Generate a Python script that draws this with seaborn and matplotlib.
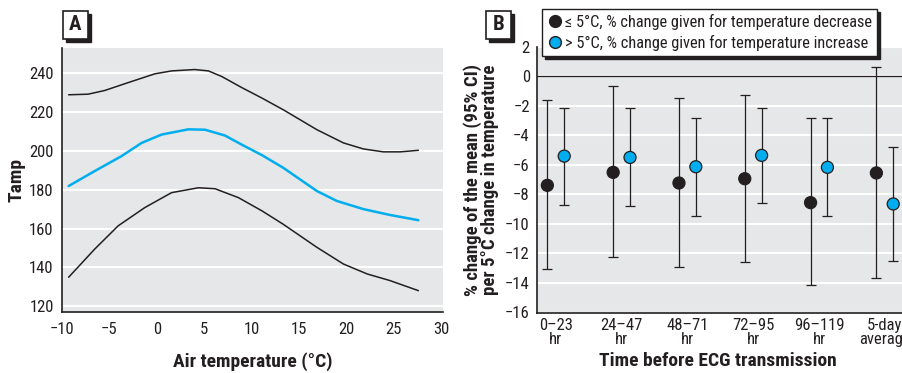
import matplotlib
matplotlib.use("Agg")
import matplotlib.pyplot as plt
import matplotlib.patches as mpatches
from matplotlib import font_manager
from matplotlib.lines import Line2D
import numpy as np
import pandas as pd
import seaborn as sns

# ---- panel A data: Tamp vs air temperature (smoothed curve + band) ----
upper_x = [-9.3, -7.25, -5.5, -3.0, -0.2, 1.57, 4.0, 5.45, 6.86, 8.97, 11.1, 13.34,
           16.9, 19.7, 21.8, 23.9, 25.7, 27.6]
upper_y = [228.9, 229.2, 231.1, 235.2, 239.7, 241.2, 241.9, 241.2, 238.3, 232.6, 227.2,
           221.2, 210.9, 204.1, 201.0, 199.5, 199.5, 200.3]
mid_x = [-9.3, -6.55, -3.72, -1.6, 0.51, 3.33, 5.09, 7.2, 8.97, 11.1, 13.34, 16.9,
         19.0, 21.8, 24.6, 27.6]
mid_y = [181.9, 189.6, 197.3, 204.1, 208.4, 211.1, 210.9, 207.9, 203.2, 197.8, 191.3,
         179.3, 174.2, 170.0, 167.0, 164.3]
lower_x = [-9.3, -6.55, -4.07, -1.26, 1.57, 4.39, 6.15, 8.62, 11.1, 13.34, 16.9, 19.7,
           22.2, 24.6, 27.6]
lower_y = [134.9, 149.4, 161.4, 170.8, 178.5, 181.0, 180.5, 175.9, 169.1, 162.2, 150.3,
           141.7, 136.6, 133.2, 128.0]

# ---- panel B data: % change per 5 degC (95% CI) ----
periods = ["0\u201323\nhr", "24\u201347\nhr", "48\u201371\nhr", "72\u201395\nhr",
           "96\u2013119\nhr", "5-day\naverage"]
cold_est = [-7.39, -6.51, -7.23, -6.94, -8.56, -6.55]
cold_lo = [-13.04, -12.27, -12.95, -12.55, -14.17, -13.69]
cold_hi = [-1.60, -0.65, -1.46, -1.24, -2.84, 0.65]
warm_est = [-5.41, -5.50, -6.13, -5.36, -6.17, -8.65]
warm_lo = [-8.69, -8.76, -9.44, -8.58, -9.48, -12.48]
warm_hi = [-2.12, -2.16, -2.82, -2.12, -2.82, -4.80]
legend_labels = ["\u2264 5\u00b0C, % change given for temperature decrease",
                 "> 5\u00b0C, % change given for temperature increase"]

BG = "#e6e7e8"
INK = "#231f20"
BLUE = "#00aeef"

sns.set_style("white")
avail = {f.name for f in font_manager.fontManager.ttflist}
narrow = [f for f in ["Liberation Sans Narrow", "DejaVu Sans Condensed", "Roboto Condensed",
                      "Liberation Sans"] if f in avail]
plt.rcParams["font.family"] = narrow + ["DejaVu Sans"]
plt.rcParams["text.color"] = INK
plt.rcParams["axes.labelcolor"] = INK
plt.rcParams["xtick.color"] = INK
plt.rcParams["ytick.color"] = INK

W, H = 902, 373
fig = plt.figure(figsize=(W / 100, H / 100), dpi=100)


def px_axes(x0, y0, x1, y1):
    return fig.add_axes([x0 / W, 1 - y1 / H, (x1 - x0) / W, (y1 - y0) / H])


def boxed_letter(letter, x0, y0, w=25, h=28, off=3):
    shadow = mpatches.Rectangle(((x0 + off) / W, 1 - (y0 + h + off) / H), w / W, h / H,
                                transform=fig.transFigure, facecolor=INK, edgecolor=INK)
    box = mpatches.Rectangle((x0 / W, 1 - (y0 + h) / H), w / W, h / H,
                             transform=fig.transFigure, facecolor="white",
                             edgecolor=INK, linewidth=1.2)
    fig.patches.extend([shadow, box])
    fig.text((x0 + w / 2) / W, 1 - (y0 + h / 2) / H, letter, ha="center", va="center",
             fontsize=15, fontweight="bold")


# ---------------- panel A ----------------
axA = px_axes(62, 48, 443, 312)
axA.set_facecolor(BG)
dfA = pd.DataFrame({"x": upper_x + mid_x + lower_x,
                    "y": upper_y + mid_y + lower_y,
                    "curve": ["upper"] * len(upper_x) + ["mid"] * len(mid_x)
                    + ["lower"] * len(lower_x)})
sns.lineplot(data=dfA, x="x", y="y", hue="curve",
             palette={"upper": INK, "mid": BLUE, "lower": INK},
             size="curve", sizes={"upper": 1.1, "mid": 1.8, "lower": 1.1},
             legend=False, ax=axA, zorder=3)
axA.set_xlim(-10, 30.2)
axA.set_ylim(117, 253)
axA.set_xticks(range(-10, 31, 5))
axA.set_yticks(range(120, 241, 20))
axA.grid(axis="y", color="white", linewidth=1.5)
axA.set_axisbelow(True)
for s in ["top", "right"]:
    axA.spines[s].set_visible(False)
for s in ["left", "bottom"]:
    axA.spines[s].set_color(INK)
    axA.spines[s].set_linewidth(1.2)
axA.tick_params(axis="x", length=4, width=1, direction="out", labelsize=12, pad=3)
axA.tick_params(axis="y", length=0, labelsize=12, pad=6)
axA.set_xlabel("Air temperature (\u00b0C)", fontsize=14, fontweight="bold", labelpad=11)
axA.set_ylabel("Tamp", fontsize=14, fontweight="bold", labelpad=3)
boxed_letter("A", 63, 11)

# ---------------- panel B ----------------
axB = px_axes(536.7, 46.7, 917.7, 312.5)
axB.set_facecolor(BG)
idx = np.arange(len(periods))
off = 0.128
dfB = pd.DataFrame({"x": np.concatenate([idx - off, idx + off]),
                    "y": cold_est + warm_est,
                    "group": ["cold"] * len(idx) + ["warm"] * len(idx)})
axB.errorbar(idx - off, cold_est,
             yerr=[np.subtract(cold_est, cold_lo), np.subtract(cold_hi, cold_est)],
             fmt="none", ecolor=INK, elinewidth=0.9, capsize=3.5, capthick=0.9, zorder=3)
axB.errorbar(idx + off, warm_est,
             yerr=[np.subtract(warm_est, warm_lo), np.subtract(warm_hi, warm_est)],
             fmt="none", ecolor=INK, elinewidth=0.9, capsize=3.5, capthick=0.9, zorder=3)
sns.scatterplot(data=dfB, x="x", y="y", hue="group",
                palette={"cold": INK, "warm": BLUE}, s=75, edgecolor=INK,
                linewidth=0.9, legend=False, ax=axB, zorder=4)
axB.axhline(0, color=INK, linewidth=0.9, zorder=2)
axB.set_xlim(-0.29, 5.5)
axB.set_ylim(-16, 2)
axB.set_yticks(range(-16, 3, 2))
axB.set_xticks(idx)
axB.set_xticklabels(periods, linespacing=0.95)
axB.grid(axis="y", color="white", linewidth=1.5)
axB.set_axisbelow(True)
for s in ["top", "right"]:
    axB.spines[s].set_visible(False)
for s in ["left", "bottom"]:
    axB.spines[s].set_color(INK)
    axB.spines[s].set_linewidth(1.2)
axB.tick_params(axis="x", length=0, labelsize=12, pad=4)
axB.tick_params(axis="y", length=0, labelsize=12, pad=5)
axB.set_xlabel("Time before ECG transmission", fontsize=14, fontweight="bold")
axB.xaxis.set_label_coords((718 - 536.7) / (917.7 - 536.7), -0.15)
axB.set_ylabel("% change of the mean (95% CI)\nper 5\u00b0C change in temperature",
               fontsize=13.5, fontweight="bold", linespacing=0.95, labelpad=4)

handles = [Line2D([], [], marker="o", linestyle="none", markersize=8.5,
                  markerfacecolor=INK, markeredgecolor=INK),
           Line2D([], [], marker="o", linestyle="none", markersize=8.5,
                  markerfacecolor=BLUE, markeredgecolor=INK)]
leg = fig.legend(handles, legend_labels, loc="upper left",
                 bbox_to_anchor=(542 / W, 1 - 9 / H), fontsize=11.8, frameon=True,
                 fancybox=False, shadow={"color": INK, "alpha": 1},
                 handletextpad=0.1, handlelength=1.0, borderpad=0.3,
                 labelspacing=0.3, borderaxespad=0)
leg.get_frame().set_edgecolor(INK)
leg.get_frame().set_linewidth(1.0)
boxed_letter("B", 486, 11)

fig.savefig("out.png", dpi=100)
